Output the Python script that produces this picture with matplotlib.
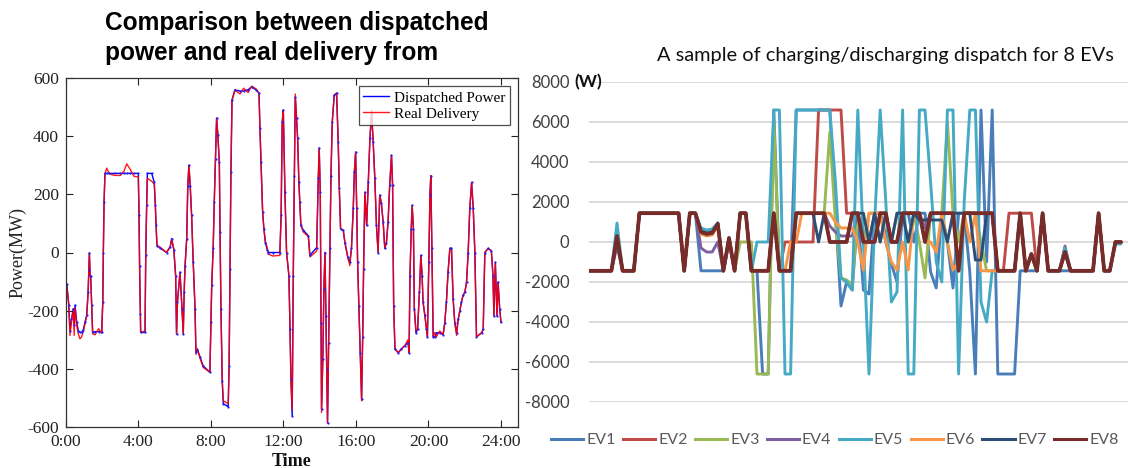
import matplotlib
matplotlib.use('Agg')
import matplotlib.pyplot as plt
from matplotlib.lines import Line2D

# ---------------- Left chart data (hours, MW) ----------------
hours = [
    0.05, 0.15, 0.22, 0.30, 0.40, 0.45, 0.50, 0.59, 0.68, 0.77,
    0.86, 0.96, 1.05, 1.14, 1.22, 1.26, 1.29, 1.33, 1.36, 1.42,
    1.47, 1.60, 1.80, 1.97, 2.03, 2.06, 2.10, 2.15, 2.25, 2.40,
    2.70, 3.00, 3.20, 3.35, 3.55, 3.75, 3.99, 4.03, 4.06, 4.10,
    4.12, 4.36, 4.40, 4.45, 4.49, 4.73, 4.87, 4.93, 4.97, 5.02,
    5.20, 5.55, 5.75, 5.83, 5.95, 6.05, 6.10, 6.15, 6.29, 6.40,
    6.47, 6.52, 6.57, 6.66, 6.72, 6.78, 6.85, 6.93, 7.02, 7.12,
    7.17, 7.25, 7.40, 7.57, 7.94, 8.00, 8.04, 8.12, 8.18, 8.25,
    8.31, 8.38, 8.46, 8.50, 8.55, 8.62, 8.68, 8.95, 9.00, 9.05,
    9.10, 9.16, 9.32, 9.60, 9.80, 10.05, 10.24, 10.50, 10.65, 10.70,
    10.76, 10.85, 10.92, 11.00, 11.10, 11.16, 11.40, 11.80, 11.87, 11.93,
    11.99, 12.08, 12.17, 12.30, 12.36, 12.41, 12.48, 12.54, 12.60, 12.65,
    12.72, 12.78, 12.85, 12.90, 12.96, 13.10, 13.37, 13.46, 13.83, 13.92,
    13.97, 14.03, 14.07, 14.10, 14.17, 14.23, 14.29, 14.34, 14.38, 14.43,
    14.49, 14.56, 14.62, 14.69, 14.80, 14.93, 15.02, 15.08, 15.15, 15.30,
    15.39, 15.55, 15.66, 15.75, 15.85, 15.91, 15.98, 16.04, 16.09, 16.16,
    16.24, 16.31, 16.37, 16.42, 16.49, 16.59, 16.68, 16.77, 16.86, 16.95,
    17.04, 17.13, 17.22, 17.31, 17.40, 17.50, 17.59, 17.68, 17.77, 17.86,
    17.96, 18.02, 18.08, 18.15, 18.33, 18.51, 18.70, 18.87, 18.93, 18.98,
    19.05, 19.10, 19.17, 19.22, 19.31, 19.40, 19.50, 19.58, 19.65, 19.70,
    19.80, 19.89, 19.94, 20.02, 20.08, 20.13, 20.19, 20.26, 20.35, 20.44,
    20.62, 20.81, 20.90, 20.99, 21.08, 21.18, 21.27, 21.36, 21.45, 21.55,
    21.64, 21.73, 21.82, 21.91, 22.01, 22.10, 22.19, 22.28, 22.38, 22.47,
    22.56, 22.65, 22.93, 23.02, 23.11, 23.29, 23.47, 23.56, 23.61, 23.69,
    23.78, 23.84, 23.93, 24.00,
]
dispatched = [
    -110, -180, -270, -230, -193, -250, -181, -239, -269, -275,
    -275, -265, -239, -216, -136, -60, -3, -80, -80, -181,
    -275, -272, -272, -272, -170, 0, 172, 272, 272, 272,
    272, 272, 272, 272, 272, 272, 272, 128, -45, -210,
    -275, -275, -10, 162, 272, 272, 241, 162, 93, 24,
    15, 0, 20, 48, 10, -80, -280, -170, -68, -193,
    -280, -136, -45, 48, 230, 300, 230, 128, -34, -193,
    -343, -335, -360, -390, -412, -240, -113, 14, 172, 323,
    462, 403, 310, 69, -193, -441, -520, -530, -390, -57,
    276, 524, 559, 555, 555, 560, 569, 559, 548, 428,
    310, 138, 81, 34, 10, 0, 0, 0, 128, 448,
    490, 207, 0, -80, -262, -434, -562, -80, 264, 535,
    462, 393, 241, 172, 93, 76, 58, -10, 17, 255,
    359, 207, -241, -538, -366, -126, 0, -217, -400, -586,
    -310, 14, 264, 448, 541, 548, 379, 221, 82, 76,
    34, -17, -34, 14, 152, 276, 345, 152, -34, -183,
    -345, -503, -290, -57, 207, 93, 241, 393, 480, 379,
    255, 93, 0, 197, 170, 104, 14, 34, 104, 231,
    334, 231, -183, -331, -345, -331, -320, -310, -345, -80,
    82, 162, 82, -193, -276, -264, -136, -10, -80, -170,
    -216, -264, -290, -34, 197, 264, 14, -290, -290, -276,
    -276, -282, -241, -170, -68, 14, 14, -159, -241, -276,
    -230, -200, -170, -147, -136, -102, 0, 152, 241, 152,
    0, -290, -276, -264, 0, 14, 6, -80, -217, -34,
    -217, -102, -193, -240,
]
delivered = [
    -120, -175, -285, -240, -200, -285, -190, -250, -280, -297,
    -290, -270, -245, -220, -140, -60, 0, -75, -85, -185,
    -280, -283, -262, -278, -170, 0, 172, 272, 290, 270,
    265, 265, 280, 305, 285, 262, 260, 128, -45, -210,
    -275, -270, -10, 162, 255, 245, 235, 162, 93, 24,
    18, 0, 20, 45, 10, -80, -280, -170, -68, -193,
    -280, -136, -45, 48, 230, 300, 240, 128, -34, -193,
    -350, -330, -365, -395, -412, -240, -113, 14, 172, 323,
    462, 403, 310, 69, -193, -441, -510, -520, -390, -57,
    276, 524, 559, 545, 565, 550, 572, 562, 548, 428,
    310, 138, 81, 40, 18, -5, -12, -10, 128, 448,
    490, 207, 0, -80, -262, -434, -540, -80, 264, 545,
    462, 393, 241, 172, 93, 70, 55, -15, 5, 255,
    359, 207, -241, -550, -366, -126, 0, -217, -400, -586,
    -310, 14, 264, 448, 541, 548, 379, 221, 82, 76,
    34, -17, -45, 14, 152, 276, 345, 152, -34, -183,
    -345, -510, -290, -57, 207, 93, 241, 393, 490, 379,
    255, 93, 0, 197, 170, 104, 14, 34, 104, 231,
    334, 231, -183, -331, -345, -331, -320, -300, -345, -80,
    82, 162, 82, -193, -270, -264, -136, -10, -80, -170,
    -216, -264, -290, -34, 197, 264, 14, -290, -275, -290,
    -270, -282, -241, -170, -68, 14, 14, -159, -241, -285,
    -230, -200, -170, -147, -136, -102, 0, 152, 241, 152,
    0, -290, -276, -264, 0, 14, 6, -80, -217, -34,
    -217, -102, -193, -240,
]
time_ticks = [0, 4, 8, 12, 16, 20, 24]
time_labels = ['0:00', '4:00', '8:00', '12:00', '16:00', '20:00', '24:00']
power_ticks = [-600, -400, -200, 0, 200, 400, 600]

# ---------------- Right chart data (W), 96 dispatch intervals ----------------
ev_names = ['EV1', 'EV2', 'EV3', 'EV4', 'EV5', 'EV6', 'EV7', 'EV8']
ev1 = [
    -1440, -1440, -1440, -1440, -1440, 100, -1440, -1440,
    -1440, 1440, 1440, 1440, 1440, 1440, 1440, 1440,
    1440, -1440, 1440, 1440, -1440, -1440, -1440, -1440,
    -1440, 0, -1440, 1440, 1440, -1440, -1440, -6600,
    -6600, 6600, -1440, -1440, -1440, 6600, 6600, 6600,
    6600, 6600, 6600, 6600, 1500, -3200, -2000, -2400,
    1440, -2400, -2600, 1440, 1440, 0, -1100, -2000,
    1440, 1440, 0, 1440, 1440, -1500, -2300, 1440,
    0, -2300, 1440, 1440, -1500, -6600, 6600, -1000,
    6600, -6600, -6600, -6600, -6600, -1440, -1440, -1440,
    -1440, 1440, -1440, -1440, -1440, -1440, -1440, -1440,
    -1440, -1440, -1440, 1440, -1440, -1440, 0, 0,
]
ev2 = [
    -1440, -1440, -1440, -1440, -1440, 300, -1440, -1440,
    -1440, 1440, 1440, 1440, 1440, 1440, 1440, 1440,
    1440, -1440, 1440, 1440, 500, 400, 450, 900,
    -1440, 200, -1440, 1440, 1440, -1440, -1440, -1440,
    -1440, 1440, -1440, 0, 0, 0, 0, 0,
    0, 6600, 6600, 6600, 6600, 6600, 1440, 1440,
    1440, 0, 0, 0, 1440, 1440, 0, 0,
    1440, 1440, 1440, 1440, 0, 1440, 1440, 1440,
    1440, 1440, -1440, 1440, 1440, 1440, 1440, 1440,
    1440, -1440, -1440, 1440, 1440, 1440, 1440, 1440,
    -1440, 1440, -1440, -1440, -1440, -500, -1440, -1440,
    -1440, -1440, -1440, 1440, -1440, -1440, 0, 0,
]
ev3 = [
    -1440, -1440, -1440, -1440, -1440, 300, -1440, -1440,
    -1440, 1440, 1440, 1440, 1440, 1440, 1440, 1440,
    1440, -1440, 1440, 1440, 600, 500, 550, 900,
    -1440, 200, -1440, 0, 0, 0, -6600, -6600,
    -6600, 6000, -1440, -1440, -1440, 1440, 1440, 1440,
    1440, 1440, 1440, 5500, 1000, -1800, -1900, -2100,
    1440, 0, 1440, 1440, 0, 1440, 0, 1440,
    1440, 0, 1440, 0, -1800, 1440, 1440, 1440,
    6000, 1440, 0, 1440, 1440, 1440, 0, -1440,
    -1440, -1440, -1440, -1440, -1440, 1440, -1440, -600,
    -1440, 1440, -1440, -1440, -1440, -500, -1440, -1440,
    -1440, -1440, -1440, 1440, -1440, -1440, 0, 0,
]
ev4 = [
    -1440, -1440, -1440, -1440, -1440, -200, -1440, -1440,
    -1440, 1440, 1440, 1440, 1440, 1440, 1440, 1440,
    1440, -1440, 1440, 1440, -300, -500, -500, 0,
    -1440, 0, -1440, 1440, 1440, -1440, -1440, -1440,
    -1440, 1440, -1440, -1440, -1440, 1440, 1440, 1440,
    1440, 1440, 1440, 800, 500, 300, 300, 300,
    1440, 0, 0, 1440, 1440, 300, 0, 0,
    1440, 1440, 1440, 1440, 700, 1440, 1440, 1440,
    1440, 1440, -1440, 1440, 1440, 1440, 1440, 1440,
    1440, -1440, -1440, -1440, -1440, 1440, -1440, -600,
    -1440, 1440, -1440, -1440, -1440, -200, -1440, -1440,
    -1440, -1440, -1440, 1440, -1440, -1440, 0, 0,
]
ev5 = [
    -1440, -1440, -1440, -1440, -1440, 950, -1440, -1440,
    -1440, 1440, 1440, 1440, 1440, 1440, 1440, 1440,
    1440, -1440, 1440, 1440, 700, 600, 650, 950,
    -1440, 200, -1440, 1440, 1440, -1440, 0, 0,
    0, 6600, 6600, -6600, -6600, 6600, 6600, 6600,
    6600, 6600, 6600, 6600, 3000, -1800, -2000, -2400,
    6600, 0, -6600, 1000, 6600, 2000, -3000, -2500,
    6600, -6600, -6600, 6600, 6600, 3000, -1000, -2000,
    6600, 6600, -6600, 2000, 6600, 6600, -3000, -4000,
    -1440, -1440, -1440, -1440, -1440, 1440, -1440, -600,
    -1440, 1440, -1440, -1440, -1440, -300, -1440, -1440,
    -1440, -1440, -1440, 1440, -1440, -1440, -100, -100,
]
ev6 = [
    -1440, -1440, -1440, -1440, -1440, 200, -1440, -1440,
    -1440, 1440, 1440, 1440, 1440, 1440, 1440, 1440,
    1440, -1440, 1440, 1440, 400, 300, 350, 800,
    -1440, 100, -1440, 1440, 1440, -1440, -1440, -1440,
    -1440, 1440, -1440, -1440, 0, 0, 1440, 1440,
    1440, 1440, 1440, 1440, 1000, 700, 700, 700,
    0, -1400, 1440, 1440, 1440, 0, -1000, -1400,
    0, -1400, 1440, 1440, 0, 0, -500, 1440,
    0, -1400, -1000, 1440, 0, 1440, -1440, -1440,
    -1440, -1440, -1440, -1440, -1440, 1440, -1440, -600,
    -1440, 1440, -1440, -1440, -1440, -500, -1440, -1440,
    -1440, -1440, -1440, 1440, -1440, -1440, 0, 0,
]
ev7 = [
    -1440, -1440, -1440, -1440, -1440, 100, -1440, -1440,
    -1440, 1440, 1440, 1440, 1440, 1440, 1440, 1440,
    1440, -1440, 1440, 1440, 550, 450, 500, 950,
    -1440, 200, -1440, 1440, 1440, -1440, -1440, -1440,
    -1440, 1440, -1440, -1440, -1440, 1440, 1440, 1440,
    1440, 0, 1440, 0, 0, 0, 0, 1440,
    1440, 1440, 0, 1440, 0, 1440, 0, 1440,
    1440, 0, 1440, 1100, 1100, 1100, 1100, 1100,
    0, 1440, 1440, 1440, 1440, -900, -900, 1440,
    1440, -1440, -1440, -1440, -1440, 1440, -1440, -600,
    -1440, 1440, -1440, -1440, -1440, -500, -1440, -1440,
    -1440, -1440, -1440, 1440, -1440, -1440, 0, 0,
]
ev8 = [
    -1440, -1440, -1440, -1440, -1440, 300, -1440, -1440,
    -1440, 1440, 1440, 1440, 1440, 1440, 1440, 1440,
    1440, -1440, 1440, 1440, 500, 400, 450, 900,
    -1440, 200, -1440, 1440, 1440, -1440, -1440, -1440,
    -1440, 1440, -1440, -1440, -1440, 1440, 1440, 1440,
    1440, 1440, 1440, 0, 0, 0, 0, 1440,
    1440, 0, 0, 0, 1440, 1440, 0, 0,
    1440, 1440, 1440, 1440, 0, 1440, 1440, 1440,
    1440, 1440, -1440, 1440, 1440, 1440, 1440, 1440,
    1440, -1440, -1440, -1440, -1440, 1440, -1440, -600,
    -1440, 1440, -1440, -1440, -1440, -500, -1440, -1440,
    -1440, -1440, -1440, 1440, -1440, -1440, 0, 0,
]
ev_ticks = [-8000, -6000, -4000, -2000, 0, 2000, 4000, 6000, 8000]
ev_colors = ['#4A7EBB', '#BE4B48', '#98B954', '#7D60A0',
             '#46AAC5', '#F79646', '#2C4D75', '#772C2A']

# ---------------- Figure ----------------
W, H = 1128, 468
fig = plt.figure(figsize=(W / 100, H / 100), dpi=100)


def fx(px):
    return px / W


def fy(py):
    return 1 - py / H


SERIF = ['Liberation Serif', 'DejaVu Serif']
SANS = ['Liberation Sans', 'DejaVu Sans']
XL = ['Lato', 'DejaVu Sans']

# ----- Left panel -----
axL = fig.add_axes([fx(66), fy(427), fx(518) - fx(66), fy(78) - fy(427)])
axL.plot(hours, dispatched, color='#0000FF', lw=1.0, label='Dispatched Power')
axL.plot(hours, delivered, color='#FF0000', lw=1.0, alpha=0.9, label='Real Delivery')
axL.plot(hours, dispatched, ls='none', marker='o', ms=1.6, mec='none', mfc='#2020FF')
axL.set_xlim(0, 24.94)
axL.set_ylim(-600, 600)
axL.set_xticks(time_ticks)
axL.set_xticklabels(time_labels)
axL.set_yticks(power_ticks)
axL.set_yticklabels([str(v) for v in power_ticks])
axL.tick_params(direction='in', top=True, right=True, length=5, width=0.8,
                labelsize=12.5, colors='#222222', pad=5)
for lab in axL.get_xticklabels() + axL.get_yticklabels():
    lab.set_family(SERIF)
for s in axL.spines.values():
    s.set_linewidth(0.9)
    s.set_color('#333333')
leg = axL.legend(loc='upper right', bbox_to_anchor=(1.0, 1.0),
                 borderaxespad=0.55, prop={'family': SERIF, 'size': 11},
                 frameon=True, fancybox=False, edgecolor='#222222',
                 handlelength=1.7, handletextpad=0.3, borderpad=0.3,
                 labelspacing=0.15)
leg.get_frame().set_linewidth(0.9)

fig.text(fx(18), fy(252), 'Power(MW)', rotation=90, ha='center', va='center',
         family=SERIF, fontsize=13, color='#222222')
fig.text(fx(292), fy(461), 'Time', ha='center', va='center', family=SERIF,
         fontsize=13, fontweight='bold', color='#111111')
tl = fig.text(fx(105), fy(11), 'Comparison between dispatched\npower and real delivery from',
              ha='left', va='top', family=SANS, fontsize=18, fontweight='bold',
              linespacing=1.3, color='#000000')

# ----- Right panel -----
axR = fig.add_axes([fx(589), fy(402), 1 - fx(589), fy(82) - fy(402)])
axR.patch.set_alpha(0)
evs = [ev1, ev2, ev3, ev4, ev5, ev6, ev7, ev8]
xs = list(range(len(ev8)))
handles = []
for name, vals, c in zip(ev_names, evs, ev_colors):
    lw = 2.7 if name == 'EV8' else 2.1
    axR.plot(xs, vals, color=c, lw=lw, solid_joinstyle='round',
             solid_capstyle='round', label=name)
    handles.append(Line2D([0], [0], color=c, lw=2.2))
axR.set_xlim(0, 96.25)
axR.set_ylim(-8000, 8000)
axR.set_yticks(ev_ticks)
axR.set_yticklabels([str(v) for v in ev_ticks])
axR.set_xticks([])
axR.grid(axis='y', color='#D9D9D9', lw=1.3)
axR.set_axisbelow(True)
for s in axR.spines.values():
    s.set_visible(False)
axR.tick_params(axis='y', length=0, pad=14, labelsize=12, labelcolor='#404040')
for lab in axR.get_yticklabels():
    lab.set_family(XL)
fig.text(fx(574), fy(82), '(W)', ha='left', va='center', family=XL,
         fontsize=12.5, color='#111111', fontweight='bold')
tr = fig.text(fx(885), fy(55), 'A sample of charging/discharging dispatch for 8 EVs',
              ha='center', va='center', family=XL, fontsize=12.5, color='#111111')


def make_legend(size):
    return fig.legend(handles, ev_names, loc='center',
                      bbox_to_anchor=(fx(835), fy(440)), ncol=8, frameon=False,
                      prop={'family': XL, 'size': size}, labelcolor='#595959',
                      handlelength=2.0, handletextpad=0.2, columnspacing=0.45)


# fit widths to the reference
fig.canvas.draw()
r = fig.canvas.get_renderer()
bb = tr.get_window_extent(r)
tr.set_fontsize(tr.get_fontsize() * 460 / bb.width)

probe = fig.text(0, 0, 'Comparison between dispatched', family=SANS,
                 fontsize=18, fontweight='bold')
bb = probe.get_window_extent(r)
tl.set_fontsize(18 * 385 / bb.width)
probe.remove()

lg = make_legend(12)
fig.canvas.draw()
w = lg.get_window_extent(r).width
lg.remove()
lg = make_legend(12 * 580 / w)

fig.savefig('out.png', dpi=100)
